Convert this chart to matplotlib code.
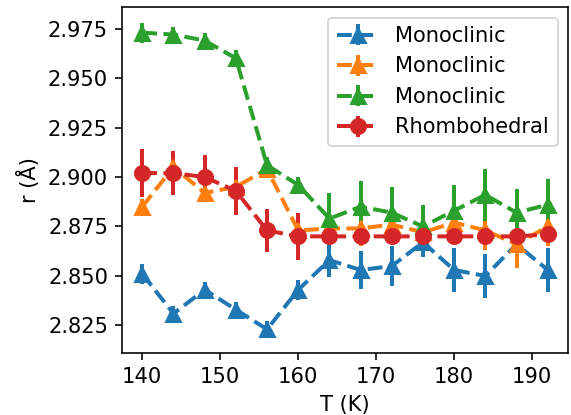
import matplotlib
matplotlib.use("Agg")
import matplotlib.pyplot as plt

T = [140, 144, 148, 152, 156, 160, 164, 168, 172, 176, 180, 184, 188, 192]

mono1 = [2.851, 2.831, 2.843, 2.833, 2.823, 2.843, 2.858, 2.853, 2.855, 2.867, 2.853, 2.850, 2.866, 2.853]
mono1_err = [0.005, 0.004, 0.004, 0.004, 0.004, 0.005, 0.0085, 0.0095, 0.010, 0.0075, 0.011, 0.011, 0.010, 0.011]

mono2 = [2.885, 2.905, 2.892, 2.895, 2.904, 2.873, 2.874, 2.874, 2.876, 2.872, 2.877, 2.873, 2.866, 2.875]
mono2_err = [0.004, 0.004, 0.004, 0.004, 0.004, 0.006, 0.008, 0.009, 0.009, 0.008, 0.010, 0.010, 0.012, 0.010]

mono3 = [2.973, 2.972, 2.969, 2.960, 2.906, 2.896, 2.879, 2.885, 2.882, 2.875, 2.883, 2.891, 2.882, 2.886]
mono3_err = [0.005, 0.004, 0.004, 0.004, 0.004, 0.004, 0.013, 0.013, 0.013, 0.011, 0.013, 0.013, 0.012, 0.013]

rhombo = [2.902, 2.902, 2.900, 2.893, 2.873, 2.870, 2.870, 2.870, 2.870, 2.870, 2.870, 2.870, 2.870, 2.871]
rhombo_err = [0.012, 0.011, 0.011, 0.012, 0.011, 0.012, 0.003, 0.003, 0.003, 0.003, 0.003, 0.003, 0.003, 0.003]

labels = ["Monoclinic", "Monoclinic", "Monoclinic", "Rhombohedral"]

plt.rcParams['font.size'] = 10.5
fig = plt.figure(figsize=(571/144, 415/144), dpi=144)
ax = fig.add_axes([122/571, 1 - 353/415, (568 - 122)/571, (353 - 7)/415])

kw = dict(ms=7.5, lw=2, elinewidth=2)
ax.errorbar(T, mono1, yerr=mono1_err, fmt='--^', color='C0', label=labels[0], **kw)
ax.errorbar(T, mono2, yerr=mono2_err, fmt='--^', color='C1', label=labels[1], **kw)
ax.errorbar(T, mono3, yerr=mono3_err, fmt='--^', color='C2', label=labels[2], **kw)
ax.errorbar(T, rhombo, yerr=rhombo_err, fmt='--o', color='C3', label=labels[3], **kw)

ax.set_xlabel("T (K)")
ax.set_ylabel("r (Å)")
ax.set_xticks([140, 150, 160, 170, 180, 190])
ax.set_yticks([2.825, 2.850, 2.875, 2.900, 2.925, 2.950, 2.975])
ax.legend(loc='upper right')

fig.savefig("out.png", dpi=144)
